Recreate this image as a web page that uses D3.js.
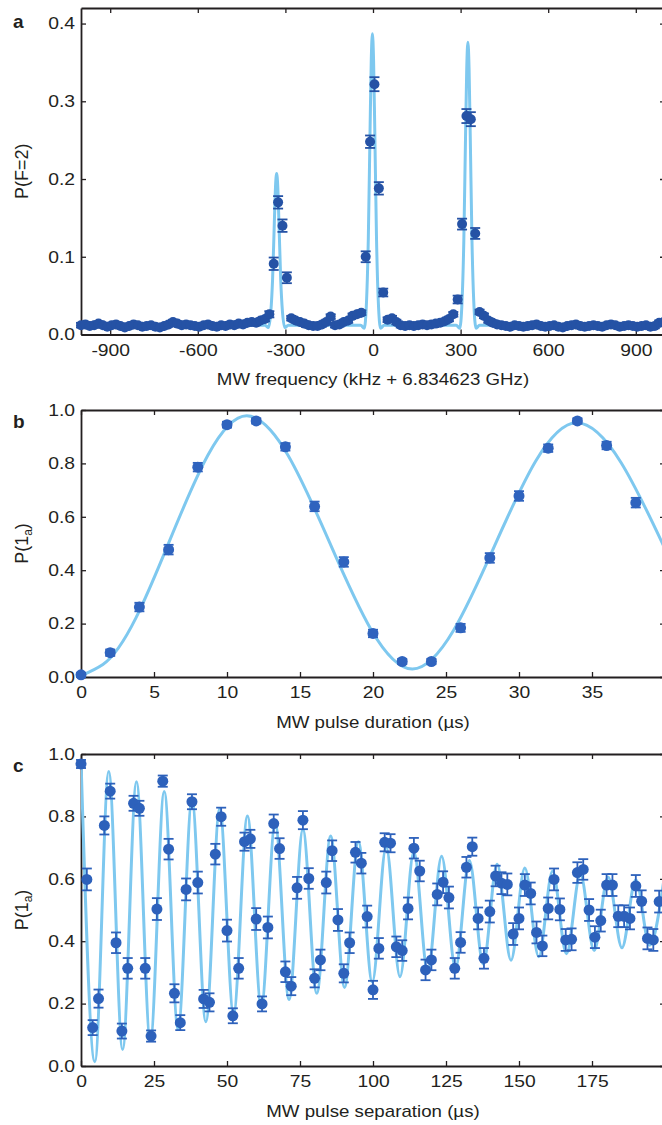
<!DOCTYPE html>
<html>
<head>
<meta charset="utf-8">
<script src="https://cdn.jsdelivr.net/npm/d3@7"></script>
<style>
  body { margin: 0; background: #fff; }
  svg { display: block; }
</style>
</head>
<body>
<div id="figure"></div>
<script>
const svgWidth = 662;
const svgHeight = 1125;
const plotLeft = 81;
const plotRight = 665;
const tickLen = 5;
const axisColor = "#231f20";
const fitColor = "#7ec8ef";
const fontFamily = "'Liberation Sans', Arial, Helvetica, sans-serif";

// a: microwave spectroscopy, scan grid in kHz
const freqStart = -1000;
const freqStep = 15;
const popA = [
  0.012,0.013,0.011,0.012,0.014,0.012,0.010,0.012,0.013,0.011,
  0.009,0.011,0.013,0.012,0.010,0.011,0.012,0.010,0.009,0.011,
  0.013,0.016,0.014,0.012,0.013,0.012,0.011,0.010,0.012,0.013,
  0.011,0.010,0.012,0.011,0.013,0.012,0.014,0.013,0.015,0.016,
  0.015,0.018,0.020,
  0.026,0.091,0.170,0.140,0.073,
  0.021,0.018,0.016,0.014,0.012,0.011,0.011,0.013,0.016,0.023,
  0.012,0.013,0.016,0.018,0.024,0.026,0.028,
  0.100,0.248,0.322,0.188,0.054,
  0.019,0.021,0.016,0.012,0.011,0.012,0.011,0.012,0.013,0.012,
  0.013,0.014,0.015,0.017,0.020,0.026,
  0.045,0.142,0.281,0.277,0.130,
  0.029,0.024,0.018,0.015,0.013,0.012,0.011,0.010,0.012,0.011,
  0.010,0.011,0.012,0.013,0.011,0.010,0.011,0.012,0.010,0.009,
  0.011,0.012,0.013,0.011,0.010,0.011,0.012,0.011,0.010,0.012,
  0.013,0.012,0.010,0.011,0.012,0.011,0.010,0.011,0.012,0.010,
  0.011,0.015,0.016
];
const errA = [
  0.003,0.003,0.003,0.003,0.003,0.003,0.003,0.003,0.003,0.003,
  0.003,0.003,0.003,0.003,0.003,0.003,0.003,0.003,0.003,0.003,
  0.003,0.003,0.003,0.003,0.003,0.003,0.003,0.003,0.003,0.003,
  0.003,0.003,0.003,0.003,0.003,0.003,0.003,0.003,0.003,0.003,
  0.003,0.003,0.003,
  0.004,0.008,0.008,0.008,0.007,
  0.003,0.003,0.003,0.003,0.003,0.003,0.003,0.003,0.003,0.003,
  0.003,0.003,0.003,0.003,0.003,0.003,0.003,
  0.007,0.008,0.009,0.008,0.005,
  0.003,0.003,0.003,0.003,0.003,0.003,0.003,0.003,0.003,0.003,
  0.003,0.003,0.003,0.003,0.003,0.003,
  0.005,0.007,0.009,0.009,0.007,
  0.003,0.003,0.003,0.003,0.003,0.003,0.003,0.003,0.003,0.003,
  0.003,0.003,0.003,0.003,0.003,0.003,0.003,0.003,0.003,0.003,
  0.003,0.003,0.003,0.003,0.003,0.003,0.003,0.003,0.003,0.003,
  0.003,0.003,0.003,0.003,0.003,0.003,0.003,0.003,0.003,0.003,
  0.003,0.003,0.003
];
const fitFreqA = [
  -1000,
  -370,-358,-350,-344,-338,-334,-330,-326,-322,-316,-310,-302,-290,
  -42,-30,-22,-16,-10,-6,-2,2,6,12,18,26,38,
  285,297,305,311,317,321,325,329,333,339,345,353,365,
  1000
];
const fitPopA = [
  0.012,
  0.012,0.009,0.029,0.070,0.143,0.189,0.207,0.189,0.143,0.070,0.029,0.009,0.012,
  0.012,0.008,0.044,0.124,0.265,0.352,0.387,0.352,0.265,0.124,0.044,0.008,0.012,
  0.012,0.008,0.043,0.120,0.257,0.342,0.376,0.342,0.257,0.120,0.043,0.008,0.012,
  0.012
];
const freqTicks = [-900, -600, -300, 0, 300, 600, 900];
const popTicksA = [0, 0.1, 0.2, 0.3, 0.4];

// b: Rabi oscillation vs pulse duration (us)
const timeB = [0,2,4,6,8,10,12,14,16,18,20,22,24,26,28,30,32,34,36,38];
const popB = [0.008,0.091,0.262,0.477,0.786,0.945,0.959,0.862,0.639,0.431,
              0.163,0.058,0.058,0.184,0.446,0.678,0.857,0.959,0.867,0.653];
const errB = [0.008,0.012,0.016,0.018,0.016,0.011,0.010,0.014,0.018,0.018,
              0.014,0.010,0.010,0.015,0.018,0.018,0.014,0.010,0.014,0.018];
const fitTimeB = [0, 1.5, 11.35, 22.7, 33.95, 40];
const fitPopB = [0.005, 0.047, 0.978, 0.030, 0.952, 0.48];
const timeTicksB = [0, 5, 10, 15, 20, 25, 30, 35];

// c: Ramsey fringes vs pulse separation (us), scan grid
const sepStart = 0;
const sepStep = 2;
const popC = [
  0.968,0.598,0.123,0.216,0.771,0.881,0.395,0.112,0.313,0.842,
  0.826,0.313,0.096,0.503,0.913,0.695,0.233,0.139,0.566,0.847,
  0.588,0.215,0.204,0.679,0.799,0.434,0.161,0.313,0.719,0.728,
  0.471,0.199,0.444,0.777,0.697,0.302,0.256,0.571,0.788,0.601,
  0.281,0.340,0.588,0.690,0.468,0.297,0.395,0.685,0.650,0.479,
  0.244,0.377,0.717,0.714,0.382,0.370,0.505,0.698,0.625,0.308,
  0.340,0.550,0.589,0.540,0.313,0.396,0.637,0.703,0.473,0.345,
  0.495,0.609,0.586,0.582,0.423,0.473,0.580,0.553,0.428,0.385,
  0.505,0.598,0.502,0.404,0.406,0.620,0.630,0.500,0.413,0.466,
  0.580,0.580,0.480,0.480,0.473,0.577,0.528,0.409,0.404,0.527
];
const errC = [
  0.013,0.035,0.024,0.029,0.029,0.024,0.033,0.024,0.033,0.024,
  0.024,0.033,0.018,0.035,0.018,0.033,0.029,0.024,0.035,0.024,
  0.035,0.029,0.029,0.033,0.029,0.035,0.024,0.033,0.029,0.029,
  0.035,0.024,0.035,0.029,0.033,0.033,0.029,0.035,0.029,0.033,
  0.029,0.033,0.035,0.033,0.035,0.029,0.033,0.033,0.033,0.035,
  0.029,0.033,0.029,0.029,0.033,0.033,0.035,0.033,0.033,0.033,
  0.033,0.035,0.035,0.035,0.033,0.033,0.033,0.029,0.035,0.033,
  0.035,0.033,0.035,0.035,0.035,0.035,0.035,0.035,0.035,0.033,
  0.035,0.035,0.035,0.035,0.035,0.033,0.033,0.035,0.035,0.035,
  0.035,0.035,0.035,0.035,0.035,0.035,0.035,0.035,0.035,0.035
];
const fitTimeC = [0,4.75,9.5,14.25,19,23.75,28.5,33.25,38,42.75,47.5,52.25,57,61.75,
  66.5,71.25,76,80.75,85.5,90.25,95,99.75,104.5,109.25,114,118.75,123.5,128.25,
  133,137.75,142.5,147.25,152,156.75,161.5,166.25,171,175.75,180.5,185.25,190,194.75,199.5];
const fitPopC = [0.980,0.014,0.944,0.053,0.911,0.082,0.880,0.117,0.852,0.142,0.825,0.167,
  0.801,0.191,0.778,0.213,0.757,0.233,0.737,0.252,0.719,0.269,0.702,0.286,0.687,0.301,
  0.672,0.314,0.659,0.327,0.647,0.339,0.635,0.350,0.625,0.360,0.615,0.370,0.606,0.379,
  0.597,0.387,0.589];
const timeTicksC = [0, 25, 50, 75, 100, 125, 150, 175];
const popTicks = [0, 0.2, 0.4, 0.6, 0.8, 1.0];

// the original lettering is a bit wider than Liberation Sans
function stretchText(sel, factor) {
  sel.each(function () {
    let w = this.getComputedTextLength();
    if (w > 0) {
      d3.select(this)
        .attr("textLength", w * factor)
        .attr("lengthAdjust", "spacingAndGlyphs");
    }
  });
}

function styleAxis(g) {
  g.selectAll(".domain").attr("stroke", axisColor).attr("stroke-width", 1.8);
  g.selectAll(".tick line").attr("stroke", axisColor).attr("stroke-width", 1.3);
  g.selectAll(".tick text")
    .attr("fill", axisColor)
    .attr("font-family", fontFamily)
    .attr("font-size", 16.5)
    .call(stretchText, 1.17);
}

function drawPanel(svg, p) {
  let x = d3.scaleLinear().domain(p.xDomain).range([plotLeft, plotRight]);
  let y = d3.scaleLinear().domain(p.yDomain).range([p.bottom, p.top]);
  let g = svg.append("g");

  // Frame with inward ticks on all sides
  g.append("g").attr("transform", `translate(0,${p.bottom})`)
    .call(d3.axisBottom(x).tickValues(p.xTicks).tickFormat(d => String(d))
      .tickSizeInner(-tickLen).tickSizeOuter(0).tickPadding(9.5))
    .call(styleAxis);
  g.append("g").attr("transform", `translate(0,${p.top})`)
    .call(d3.axisTop(x).tickValues(p.xTicks).tickFormat("")
      .tickSizeInner(-tickLen).tickSizeOuter(0))
    .call(styleAxis);
  g.append("g").attr("transform", `translate(${plotLeft},0)`)
    .call(d3.axisLeft(y).tickValues(p.yTicks).tickFormat(d3.format(".1f"))
      .tickSizeInner(-tickLen).tickSizeOuter(0).tickPadding(6))
    .call(styleAxis);
  g.append("g").attr("transform", `translate(${plotRight},0)`)
    .call(d3.axisRight(y).tickValues(p.yTicks).tickFormat("")
      .tickSizeInner(-tickLen).tickSizeOuter(0))
    .call(styleAxis);

  // Fit curve
  let clipId = `clip-${p.label}`;
  svg.append("clipPath").attr("id", clipId)
    .append("rect")
    .attr("x", plotLeft).attr("y", p.top)
    .attr("width", plotRight - plotLeft).attr("height", p.bottom - p.top);
  let line = d3.line()
    .x(d => x(d[0]))
    .y(d => y(d[1]))
    .curve(d3.curveMonotoneX);
  g.append("path")
    .datum(d3.zip(p.fitX, p.fitY))
    .attr("clip-path", `url(#${clipId})`)
    .attr("d", line)
    .attr("fill", "none")
    .attr("stroke", fitColor)
    .attr("stroke-width", 3);

  // Data points with error bars
  let pts = d3.zip(p.dataX, p.dataY, p.dataErr);
  let bars = g.append("g")
    .attr("stroke", p.dotColor)
    .attr("stroke-width", 1.8);
  pts.forEach(d => {
    let cx = x(d[0]);
    let y0 = y(d[1] - d[2]);
    let y1 = y(d[1] + d[2]);
    bars.append("line").attr("x1", cx).attr("x2", cx).attr("y1", y0).attr("y2", y1);
    bars.append("line").attr("x1", cx - 5).attr("x2", cx + 5).attr("y1", y0).attr("y2", y0);
    bars.append("line").attr("x1", cx - 5).attr("x2", cx + 5).attr("y1", y1).attr("y2", y1);
  });
  g.append("g").selectAll("circle")
    .data(pts)
    .enter()
    .append("circle")
    .attr("cx", d => x(d[0]))
    .attr("cy", d => y(d[1]))
    .attr("r", p.dotR)
    .attr("fill", p.dotColor);

  // Titles
  g.append("text")
    .attr("x", (plotLeft + plotRight) / 2)
    .attr("y", p.bottom + 50.5)
    .attr("text-anchor", "middle")
    .attr("font-family", fontFamily)
    .attr("font-size", 17)
    .attr("fill", axisColor)
    .text(p.xTitle)
    .call(stretchText, 1.1);

  let yt = g.append("text")
    .attr("transform", `translate(22,${(p.top + p.bottom) / 2}) rotate(-90)`)
    .attr("text-anchor", "middle")
    .attr("dy", "0.35em")
    .attr("font-family", fontFamily)
    .attr("font-size", 18)
    .attr("fill", axisColor);
  if (p.ySub) {
    yt.append("tspan").text(p.yTitle);
    yt.append("tspan").attr("font-size", 12).attr("dy", 4).text(p.ySub);
    yt.append("tspan").attr("dy", -4).text(")");
  } else {
    yt.text(p.yTitle);
  }

  g.append("text")
    .attr("x", 13)
    .attr("y", p.labelY)
    .attr("font-family", fontFamily)
    .attr("font-size", 19)
    .attr("font-weight", "bold")
    .attr("fill", axisColor)
    .text(p.label);
}

let svg = d3.select("#figure").append("svg")
  .attr("width", svgWidth)
  .attr("height", svgHeight)
  .style("background", "#fff");

let freqA = popA.map((_, i) => freqStart + i * freqStep);
let sepC = popC.map((_, i) => sepStart + i * sepStep);

drawPanel(svg, {
  label: "a", labelY: 28, top: 8, bottom: 334.5,
  xDomain: [-1000, 1000], yDomain: [0, 0.42],
  xTicks: freqTicks, yTicks: popTicksA,
  dataX: freqA, dataY: popA, dataErr: errA,
  fitX: fitFreqA, fitY: fitPopA,
  dotColor: "#2552a5", dotR: 5,
  xTitle: "MW frequency (kHz + 6.834623 GHz)",
  yTitle: "P(F=2)"
});

drawPanel(svg, {
  label: "b", labelY: 428, top: 410, bottom: 677,
  xDomain: [0, 40], yDomain: [0, 1],
  xTicks: timeTicksB, yTicks: popTicks,
  dataX: timeB, dataY: popB, dataErr: errB,
  fitX: fitTimeB, fitY: fitPopB,
  dotColor: "#2f63be", dotR: 5.5,
  xTitle: "MW pulse duration (\u00b5s)",
  yTitle: "P(1", ySub: "a"
});

drawPanel(svg, {
  label: "c", labelY: 772, top: 754, bottom: 1066,
  xDomain: [0, 200], yDomain: [0, 1],
  xTicks: timeTicksC, yTicks: popTicks,
  dataX: sepC, dataY: popC, dataErr: errC,
  fitX: fitTimeC, fitY: fitPopC,
  dotColor: "#2d61bb", dotR: 5.5,
  xTitle: "MW pulse separation (\u00b5s)",
  yTitle: "P(1", ySub: "a"
});
</script>
</body>
</html>
